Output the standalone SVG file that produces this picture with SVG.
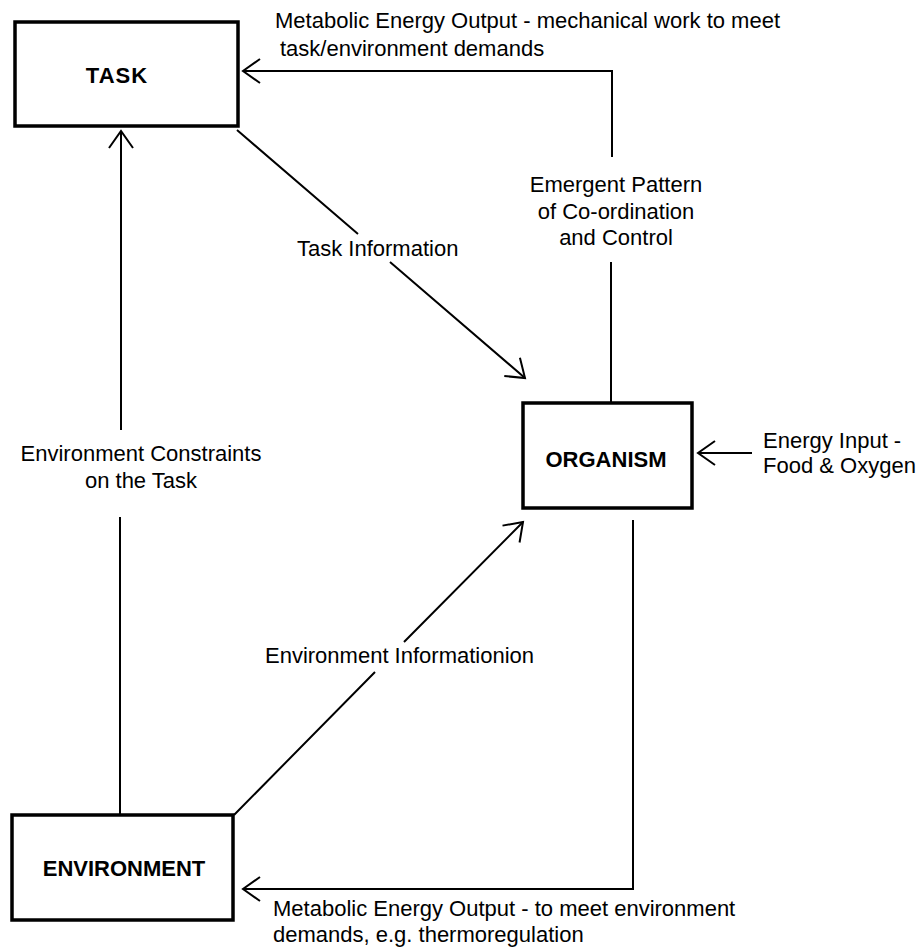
<svg xmlns="http://www.w3.org/2000/svg" width="921" height="951" viewBox="0 0 921 951">
<style>
.box{fill:#fff;stroke:#000;stroke-width:3.5}
.name{font-family:"Liberation Sans",Arial,sans-serif;font-weight:bold;font-size:22px;text-anchor:middle;fill:#000}
.lbl{font-family:"Liberation Sans",Arial,sans-serif;font-size:22px;fill:#000}
.mid{text-anchor:middle}
.conn{fill:none;stroke:#000;stroke-width:2}
</style>
<defs>
<marker id="open" markerUnits="userSpaceOnUse" viewBox="-25 -15 30 30" markerWidth="30" markerHeight="30" refX="0" refY="0" orient="auto">
<path d="M-17,-12 L0,0 L-17,12" fill="none" stroke="#000" stroke-width="2"/>
</marker>
</defs>
<rect width="921" height="951" fill="#fff"/>
<g id="connectors">
<path class="conn" d="M120,815 V517 M121,430 V131" marker-end="url(#open)"/>
<path class="conn" d="M237,130 L358,234 M390,262 L525,378" marker-end="url(#open)"/>
<path class="conn" d="M234,815 L375,672 M404,642 L523,522" marker-end="url(#open)"/>
<path class="conn" d="M611,403 V262 M612,157 V71 H243" marker-end="url(#open)"/>
<path class="conn" d="M633,520 V889 H243" marker-end="url(#open)"/>
<path class="conn" d="M752,453 H698" marker-end="url(#open)"/>
</g>
<g id="task">
<rect class="box" x="15" y="22" width="223" height="104"/>
<text class="name" x="117" y="83" letter-spacing="1">TASK</text>
</g>
<g id="organism">
<rect class="box" x="523" y="403" width="169" height="105"/>
<text class="name" x="606" y="467">ORGANISM</text>
</g>
<g id="environment">
<rect class="box" x="12" y="815" width="221" height="105"/>
<text class="name" x="124" y="876">ENVIRONMENT</text>
</g>
<g id="labels">
<text class="lbl" x="275" y="28">Metabolic Energy Output - mechanical work to meet</text>
<text class="lbl" x="280" y="56">task/environment demands</text>
<text class="lbl mid" x="616" y="192">Emergent Pattern</text>
<text class="lbl mid" x="616" y="219">of Co-ordination</text>
<text class="lbl mid" x="616" y="245">and Control</text>
<text class="lbl" x="297" y="256">Task Information</text>
<text class="lbl mid" x="141" y="461">Environment Constraints</text>
<text class="lbl mid" x="141" y="488">on the Task</text>
<text class="lbl" x="763" y="448">Energy Input -</text>
<text class="lbl" x="763" y="473">Food &amp; Oxygen</text>
<text class="lbl" x="265" y="663">Environment Informationion</text>
<text class="lbl" x="273" y="916">Metabolic Energy Output - to meet environment</text>
<text class="lbl" x="273" y="942">demands, e.g. thermoregulation</text>
</g>
</svg>
